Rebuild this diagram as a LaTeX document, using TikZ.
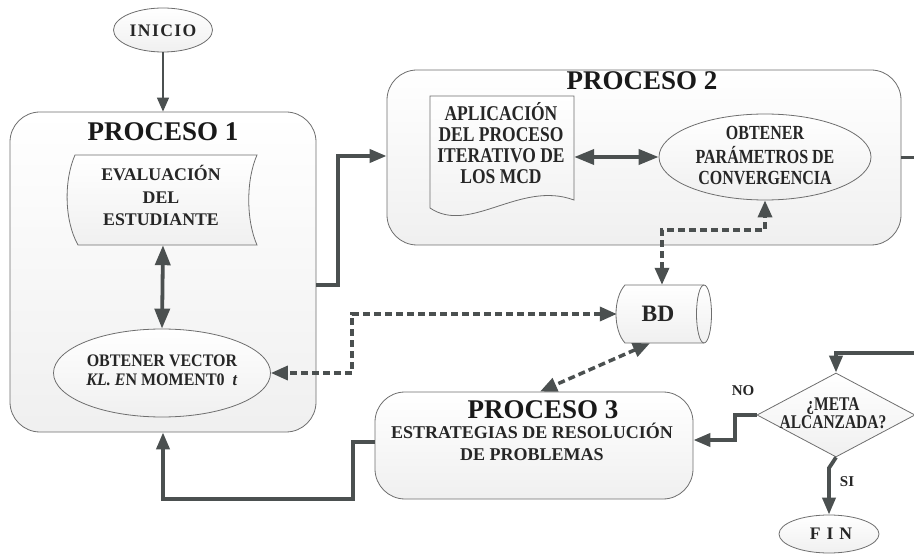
\documentclass[tikz,border=0pt]{standalone}
\usepackage{fontspec}
\usepackage{graphicx}
\setmainfont{Liberation Serif}
\usetikzlibrary{arrows.meta,shapes.geometric}
\definecolor{lnc}{HTML}{4B5050}
\definecolor{brd}{HTML}{6E6E6E}
\newcommand{\vst}[2]{\scalebox{1}[#1]{\begin{tabular}{@{}c@{}}#2\end{tabular}}}
\tikzset{
  boxbase/.style={draw=brd, line width=0.8pt, top color=white, bottom color=black!6},
  procbox/.style={boxbase, rectangle, rounded corners=30pt, inner sep=0pt},
  ellbox/.style={boxbase, ellipse, inner sep=0pt},
  anchorbox/.style={rectangle, draw=none, inner sep=0pt},
  ttl/.style={font=\bfseries\fontsize{27}{27}\selectfont, inner sep=0pt, text=black!90},
  tx/.style={inner sep=0pt, text=black!85, align=center},
  lbl/.style={font=\bfseries\fontsize{15}{15}\selectfont, inner sep=0pt, text=black!85},
  thinarrow/.style={draw=lnc, line width=1.3pt, -{Triangle[length=14pt,width=12pt]}},
  thickarrow/.style={draw=lnc, line width=3.8pt, -{Triangle[length=17pt,width=13pt]}},
  dblarrow/.style={draw=lnc, line width=3.8pt, {Triangle[length=20pt,width=15pt]}-{Triangle[length=20pt,width=15pt]}},
  dasharrow/.style={draw=lnc, line width=3.5pt, dash pattern=on 7pt off 4pt, {Triangle[length=17pt,width=14pt]}-{Triangle[length=17pt,width=14pt]}},
}
\begin{document}
\begin{tikzpicture}[x=1pt,y=-1pt]
\useasboundingbox (0,0) rectangle (914,556);

% INICIO
\node[ellbox, minimum width=99pt, minimum height=44pt] (inicio) at (163,30) {};
\node[tx, font=\bfseries\fontsize{17.6}{18}\selectfont] (iniciot) at (163,31) {I\kern1.4pt N\kern1.4pt I\kern1.4pt C\kern1.4pt I\kern1.4pt O};

% PROCESO 1
\node[procbox, minimum width=306pt, minimum height=320pt] (p1) at (163,272) {};
\node[ttl] (p1t) at (163,132) {PROCESO 1};
\draw[boxbase] (75,155) -- (257,155) .. controls (246,180) and (246,220) .. (257,245) -- (78,245) .. controls (64,220) and (64,180) .. (75,155) -- cycle;
\node[anchorbox, minimum width=182pt, minimum height=90pt] (eval) at (163,200) {};
\node[tx, font=\bfseries\fontsize{17.8}{22.5}\selectfont] (evalt) at (161,199) {\vst{1}{EVALUACIÓN\\DEL\\ESTUDIANTE}};
\node[ellbox, minimum width=217pt, minimum height=88pt] (vec) at (162,373) {};
\node[tx, font=\bfseries\fontsize{16}{18}\selectfont] (vect) at (162,372) {\vst{1.1}{OBTENER VECTOR\\\textit{KL. E}N MOMENT0~~\textit{t}}};

% PROCESO 2
\node[procbox, minimum width=514pt, minimum height=175pt] (p2) at (644,157.5) {};
\node[ttl] (p2t) at (642,81) {PROCESO 2};
\draw[boxbase] (430,96) -- (574,96) -- (574,200) .. controls (520,180) and (470,235) .. (430,208) -- cycle;
\node[anchorbox, minimum width=144pt, minimum height=112pt] (doc) at (502,152) {};
\node[tx, font=\bfseries\fontsize{17.5}{17.5}\selectfont] (doct) at (501,146) {\vst{1.2}{APLICACIÓN\\DEL PROCESO\\ITERATIVO DE\\LOS MCD}};
\node[ellbox, minimum width=212pt, minimum height=86pt] (par) at (765,157) {};
\node[tx, font=\bfseries\fontsize{16}{17}\selectfont] (part) at (765,158) {\vst{1.25}{OBTENER\\PARÁMETROS DE\\CONVERGENCIA}};

% BD cylinder
\draw[boxbase] (625,285) -- (704,285) arc[start angle=-90, end angle=90, x radius=7.5, y radius=29] -- (625,343) .. controls (613,330) and (613,298) .. (625,285) -- cycle;
\draw[brd, line width=0.8pt] (704,285) arc[start angle=-90, end angle=-270, x radius=7.5, y radius=29];
\node[anchorbox, minimum width=90pt, minimum height=58pt] (bdn) at (662,314) {};
\node[tx, font=\bfseries\fontsize{23.5}{24}\selectfont] (bdt) at (658,314) {BD};

% PROCESO 3
\node[procbox, minimum width=318pt, minimum height=107pt] (p3) at (534,445.5) {};
\node[ttl] (p3t) at (543,410) {PROCESO 3};
\node[tx, font=\bfseries\fontsize{18}{22}\selectfont] (p3x) at (532,445) {\vst{1}{ESTRATEGIAS DE RESOLUCIÓN\\DE PROBLEMAS}};

% Decision
\node[diamond, boxbase, minimum width=158pt, minimum height=84pt, inner sep=0pt, aspect=1.88] (meta) at (836,415) {};
\node[tx, font=\bfseries\fontsize{15.5}{14.5}\selectfont] (metat) at (833,416) {\vst{1.25}{¿META\\ALCANZADA?}};
\node[ellbox, minimum width=100pt, minimum height=38pt] (fin) at (829,534) {};
\node[tx, font=\bfseries\fontsize{17.6}{18}\selectfont] (fint) at (831,534) {F\kern6pt I\kern6pt N};

\node[lbl] (nol) at (743,391) {NO};
\node[lbl] (sil) at (847,482) {SI};

% connectors
\draw[thinarrow] (inicio.south) -- (p1.north);
\draw[dblarrow] (eval.south) -- (vec.north);
\draw[thickarrow] (p1.east |- 0,285) -- (338,285) -- (338,156) -- (p2.west |- 0,156);
\draw[dblarrow] (doc.east |- par.west) -- (par.west);
\draw[dasharrow] (bdn.north) -- (bdn.north |- 0,230) -- (par.south |- 0,230) -- (par.south);
\draw[dasharrow] (bdn.west) -- (bdn.west -| 352,0) -- (vec.east -| 352,0) -- (vec.east);
\draw[dasharrow] ([xshift=-12pt]bdn.south) -- ([xshift=6pt]p3.north);
\draw[thickarrow] (p2.east) -- (924,157.5) -- (924,353) -- (meta.north |- 0,353) -- (meta.north);
\draw[thickarrow] (meta.west) -- (735,415) -- (735,440) -- (p3.east |- 0,440);
\draw[thickarrow] (meta.south) -- (829,468) -- (fin.north);
\draw[thickarrow] (p3.west |- 0,442) -- (353,442) -- (353,499) -- (163,499) -- (p1.south);
\end{tikzpicture}
\end{document}
